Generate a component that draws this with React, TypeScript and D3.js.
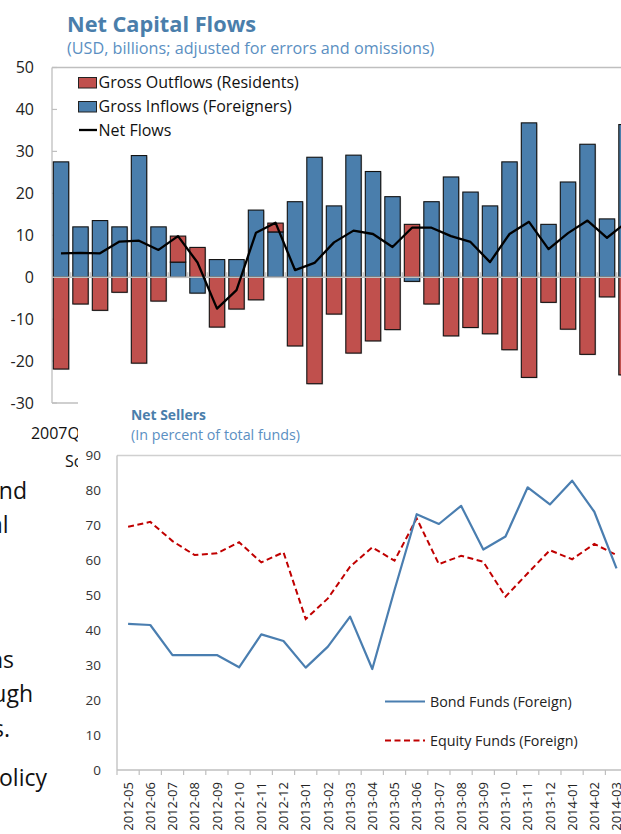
import React from "react";
import * as d3 from "d3";

const quarters = [
  "2007Q1","2007Q2","2007Q3","2007Q4","2008Q1","2008Q2","2008Q3","2008Q4",
  "2009Q1","2009Q2","2009Q3","2009Q4","2010Q1","2010Q2","2010Q3","2010Q4",
  "2011Q1","2011Q2","2011Q3","2011Q4","2012Q1","2012Q2","2012Q3","2012Q4",
  "2013Q1","2013Q2","2013Q3","2013Q4","2014Q1","2014Q2",
];
const inflows = [27.5, 12.0, 13.5, 12.0, 29.0, 12.0, 3.6, -3.8, 4.2, 4.2, 16.0, 10.8, 18.0, 28.6, 17.0, 29.1, 25.2, 19.2, -1.0, 18.0, 23.9, 20.3, 17.0, 27.5, 36.8, 12.6, 22.7, 31.7, 13.9, 36.4];
const outflows = [-21.9, -6.4, -7.9, -3.6, -20.5, -5.7, 6.2, 7.1, -11.9, -7.6, -5.4, 2.1, -16.4, -25.4, -8.8, -18.1, -15.2, -12.5, 12.6, -6.4, -14.0, -12.0, -13.5, -17.3, -23.9, -6.0, -12.4, -18.4, -4.7, -23.3];
const netFlows = [5.7, 5.8, 5.7, 8.5, 8.7, 6.5, 9.8, 3.5, -7.5, -3.1, 10.6, 13.0, 1.7, 3.4, 8.3, 11.1, 10.3, 7.2, 11.8, 11.8, 9.8, 8.4, 3.6, 10.3, 13.2, 6.7, 10.5, 13.5, 9.4, 13.1];
const topTicks = [50, 40, 30, 20, 10, 0, -10, -20, -30];
const topLegend = ["Gross Outflows (Residents)", "Gross Inflows (Foreigners)", "Net Flows"];

const months = [
  "2012-05","2012-06","2012-07","2012-08","2012-09","2012-10","2012-11","2012-12",
  "2013-01","2013-02","2013-03","2013-04","2013-05","2013-06","2013-07","2013-08",
  "2013-09","2013-10","2013-11","2013-12","2014-01","2014-02","2014-03",
];
const bondFunds = [41.8, 41.5, 32.9, 32.9, 32.9, 29.4, 38.8, 36.9, 29.3, 35.3, 43.9, 28.9, 51.5, 73.2, 70.4, 75.6, 63.1, 66.8, 80.9, 76.0, 82.8, 73.9, 57.7];
const equityFunds = [69.6, 71.0, 65.5, 61.5, 62.0, 65.2, 59.4, 62.3, 43.2, 49.1, 58.2, 63.7, 59.9, 72.0, 58.9, 61.3, 59.6, 49.6, 56.3, 62.9, 60.3, 64.7, 61.5];
const bottomTicks = [0, 10, 20, 30, 40, 50, 60, 70, 80, 90];

const sideText = [
  { t: "nd", x: 27, y: 499 },
  { t: "al", x: 8.5, y: 533 },
  { t: "ns", x: 14, y: 668 },
  { t: "ugh", x: 33, y: 702 },
  { t: "s.", x: 10, y: 737 },
  { t: "olicy", x: 47, y: 786 },
];

const FONT = "'Open Sans', 'Noto Sans', sans-serif";
const BLUE = "#4a7eac";
const RED = "#c0504d";
const TITLE = "#4a7eab";
const SUB = "#5b8fc2";
const AXIS = "#bfbfbf";

export default function App() {
  // ---------- top chart ----------
  const xTop = d3
    .scaleBand<string>()
    .domain(quarters)
    .range([52, 52 + 19.5 * (quarters.length - 0.21 + 2 * 0.067)])
    .paddingInner(0.21)
    .paddingOuter(0.067);
  const yTop = d3.scaleLinear().domain([-30, 50]).range([403, 67.5]);
  const rows = quarters.map((q, i) => ({ q, inflows: inflows[i], outflows: outflows[i] }));
  const stacked = d3
    .stack<any>()
    .keys(["inflows", "outflows"])
    .offset(d3.stackOffsetDiverging)(rows);
  const fills: Record<string, string> = { inflows: BLUE, outflows: RED };
  const netLine = d3
    .line<number>()
    .x((_, i) => (xTop(quarters[i]) as number) + xTop.bandwidth() / 2)
    .y((d) => yTop(d))(netFlows);
  const step = xTop.step();
  const bw = xTop.bandwidth();

  // ---------- bottom chart ----------
  const xB = d3.scaleBand<string>().domain(months).range([117, 117 + 22.2 * months.length]);
  const yB = d3.scaleLinear().domain([0, 90]).range([770, 455.5]);
  const cx = (i: number) => (xB(months[i]) as number) + xB.bandwidth() / 2;
  const bondLine = d3.line<number>().x((_, i) => cx(i)).y((d) => yB(d))(bondFunds);
  const eqLine = d3.line<number>().x((_, i) => cx(i)).y((d) => yB(d))(equityFunds);

  return (
    <div style={{ position: "absolute", left: 0, top: 0 }}>
      <svg width={621} height={834} style={{ display: "block", background: "#fff" }} fontFamily={FONT}>
        <defs>
          <clipPath id="leftStrip">
            <rect x={0} y={392} width={78} height={442} />
          </clipPath>
        </defs>
        {/* top titles */}
        <text x={67} y={32} fontSize={21} fontWeight="bold" fill={TITLE} textLength={189} lengthAdjust="spacingAndGlyphs">Net Capital Flows</text>
        <text x={67} y={54} fontSize={16.2} fill={SUB}>(USD, billions; adjusted for errors and omissions)</text>

        {/* top frame */}
        <line x1={52} x2={621} y1={67.5} y2={67.5} stroke={AXIS} strokeWidth={1.3} />
        <line x1={52} x2={52} y1={67.5} y2={403} stroke={AXIS} strokeWidth={1.3} />
        <line x1={52} x2={621} y1={403} y2={403} stroke={AXIS} strokeWidth={1.3} />
        {topTicks.map((t) => (
          <g key={t}>
            <line x1={52} x2={57} y1={yTop(t)} y2={yTop(t)} stroke={AXIS} strokeWidth={1.2} />
            <text x={34} y={yTop(t)} dy="0.35em" textAnchor="end" fontSize={16} fill="#222">{t}</text>
          </g>
        ))}

        {/* bars */}
        {stacked.map((s) => (
          <g key={s.key}>
            {s.map((d, i) => {
              const y0 = yTop(d[0]);
              const y1 = yTop(d[1]);
              const top = Math.min(y0, y1);
              const h = Math.abs(y1 - y0);
              if (h < 0.01) return null;
              return (
                <g key={i}>
                  <rect x={(xTop(quarters[i]) as number) + 1} y={top + 1} width={bw} height={h} fill="#000" opacity={0.18} />
                  <rect x={xTop(quarters[i])} y={top} width={bw} height={h} fill={fills[s.key]} stroke="#111" strokeWidth={1.1} />
                </g>
              );
            })}
          </g>
        ))}

        {/* zero line with category ticks */}
        <line x1={52} x2={621} y1={yTop(0)} y2={yTop(0)} stroke={AXIS} strokeWidth={1.5} />
        {quarters.map((q) => {
          const bx = (xTop(q) as number) + bw + (step - bw) / 2;
          return <line key={q} x1={bx} x2={bx} y1={yTop(0) - 5} y2={yTop(0)} stroke={AXIS} strokeWidth={1.2} />;
        })}

        {/* net line */}
        <path d={netLine || ""} fill="none" stroke="#000" strokeWidth={2.3} strokeLinejoin="round" />

        {/* top legend */}
        <rect x={78.5} y={77.5} width={18} height={10.5} fill={RED} stroke="#222" strokeWidth={1} />
        <rect x={78.5} y={101.5} width={18} height={10.5} fill={BLUE} stroke="#222" strokeWidth={1} />
        <line x1={79} x2={97} y1={130} y2={130} stroke="#000" strokeWidth={2.3} />
        {topLegend.map((t, i) => (
          <text key={t} x={98.5} y={[82.8, 106.8, 130.5][i]} dy="0.35em" fontSize={16} fill="#111">{t}</text>
        ))}

        {/* top x label and source line, visible only left of the inset */}
        <g clipPath="url(#leftStrip)">
          <text x={(xTop(quarters[0]) as number) + bw / 2 - 1} y={439} textAnchor="middle" fontSize={16} fill="#111">{quarters[0]}</text>
          <text x={65} y={467} fontSize={16} fill="#111">Sources:</text>
        </g>

        {/* side paragraph fragments */}
        {sideText.map((s) => (
          <text key={s.t} x={s.x} y={s.y} textAnchor="end" fontSize={23} fill="#111">{s.t}</text>
        ))}

        {/* inset background */}
        <rect x={78} y={392} width={543} height={442} fill="#fff" />

        {/* bottom titles */}
        <text x={131} y={420} fontSize={14} fontWeight="bold" fill={TITLE} textLength={75} lengthAdjust="spacingAndGlyphs">Net Sellers</text>
        <text x={131} y={440} fontSize={14.3} fill={SUB}>(In percent of total funds)</text>

        {/* bottom frame */}
        <line x1={117} x2={621} y1={455.5} y2={455.5} stroke="#d0d0d0" strokeWidth={1.3} />
        <line x1={117} x2={117} y1={455.5} y2={770} stroke={AXIS} strokeWidth={1.3} />
        <line x1={117} x2={621} y1={770} y2={770} stroke={AXIS} strokeWidth={1.3} />
        {bottomTicks.map((t) => (
          <text key={t} x={101} y={yB(t)} dy="0.35em" textAnchor="end" fontSize={13.5} fill="#333">{t}</text>
        ))}
        {months.map((m, i) => (
          <g key={m}>
            <line x1={xB(m) as number} x2={xB(m) as number} y1={770} y2={775} stroke={AXIS} strokeWidth={1.2} />
            <text
              transform={`translate(${cx(i) + 4.7},782) rotate(-90)`}
              textAnchor="end"
              fontSize={13}
              fill="#222"
            >
              {m}
            </text>
          </g>
        ))}

        <path d={eqLine || ""} fill="none" stroke="#c00000" strokeWidth={2} strokeDasharray="6,3.5" />
        <path d={bondLine || ""} fill="none" stroke="#4a7eb0" strokeWidth={2.2} strokeLinejoin="round" />

        {/* bottom legend */}
        <line x1={385} x2={425} y1={701.5} y2={701.5} stroke="#4a7eb0" strokeWidth={2.2} />
        <text x={430} y={701.5} dy="0.35em" fontSize={14.3} fill="#222">Bond Funds (Foreign)</text>
        <line x1={385} x2={425} y1={740.5} y2={740.5} stroke="#c00000" strokeWidth={2} strokeDasharray="6,3.5" />
        <text x={430} y={740.5} dy="0.35em" fontSize={14.3} fill="#222">Equity Funds  (Foreign)</text>
      </svg>
    </div>
  );
}
